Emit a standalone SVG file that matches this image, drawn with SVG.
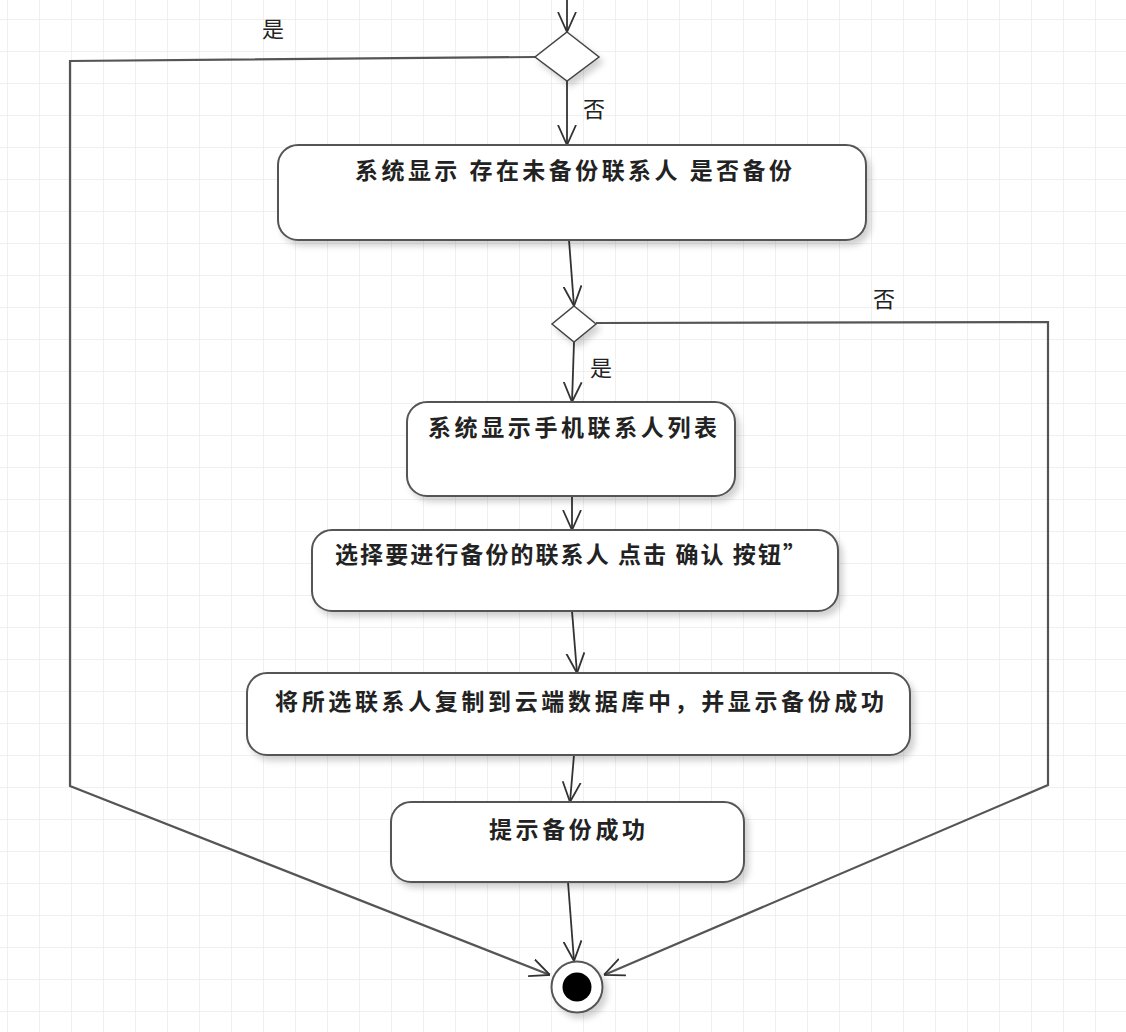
<svg xmlns="http://www.w3.org/2000/svg" width="1126" height="1032" viewBox="0 0 1126 1032">
  <style>
    .node rect { fill: #ffffff; stroke: #555555; stroke-width: 2; filter: url(#shadow); }
    .dia { fill: #ffffff; stroke: #444444; stroke-width: 1.5; filter: url(#shadow); }
    .lbl { font-family: "Noto Sans CJK SC", "Liberation Sans", sans-serif; font-size: 23px; font-weight: bold; fill: #222222; }
    .guard { font-family: "Noto Sans CJK SC", "Liberation Sans", sans-serif; font-size: 22px; fill: #222222; }
    .edge { fill: none; stroke: #333333; stroke-width: 1.8; marker-end: url(#arrow); }
    .edge2 { fill: none; stroke: #555555; stroke-width: 2.2; marker-end: url(#arrow); }
  </style>
  <defs>
    <pattern id="grid" patternUnits="userSpaceOnUse" x="7" y="19" width="32" height="32">
      <path d="M0,0 H32 M0,0 V32" fill="none" stroke="#e2e2e2" stroke-width="1"/>
    </pattern>
    <filter id="shadow" x="-10%" y="-10%" width="130%" height="140%">
      <feDropShadow dx="4" dy="5" stdDeviation="3" flood-color="#000000" flood-opacity="0.18"/>
    </filter>
    <marker id="arrow" viewBox="0 0 20 20" refX="20" refY="10" markerWidth="20" markerHeight="20" markerUnits="userSpaceOnUse" orient="auto">
      <path d="M0,1 L20,10 L0,19" fill="none" stroke="#333333" stroke-width="1.8"/>
    </marker>
  </defs>

  <rect x="0" y="0" width="1126" height="1032" fill="#ffffff"/>
  <rect x="0" y="0" width="1126" height="1032" fill="url(#grid)"/>

  <g id="connectors">
    <path class="edge" d="M567,0 L567,32"/>
    <path class="edge" d="M567,81 L567,145"/>
    <path class="edge2" d="M535,57 L70,61 L70,786 L550,975"/>
    <path class="edge" d="M569,240 L574,306"/>
    <path class="edge2" d="M596,323 L1048,322 L1048,785 L604,975"/>
    <path class="edge" d="M574,342 L572,402"/>
    <path class="edge" d="M572,496 L572,530"/>
    <path class="edge" d="M572,611 L577,673"/>
    <path class="edge" d="M574,755 L570,802"/>
    <path class="edge" d="M568,882 L574,961"/>
  </g>

  <g id="labels">
    <text class="guard" x="262" y="37">是</text>
    <text class="guard" x="583" y="117">否</text>
    <text class="guard" x="873" y="307">否</text>
    <text class="guard" x="590" y="376">是</text>
  </g>

  <g id="decision1">
    <polygon class="dia" points="567,32 599,57 567,81 535,57"/>
  </g>

  <g id="action1" class="node">
    <rect x="278" y="145" width="588" height="95" rx="20" ry="20"/>
    <text class="lbl" x="355" y="179" textLength="437" lengthAdjust="spacing">系统显示 存在未备份联系人 是否备份</text>
  </g>

  <g id="decision2">
    <polygon class="dia" points="574,306 596,324 574,342 552,324"/>
  </g>

  <g id="action2" class="node">
    <rect x="407" y="402" width="328" height="94" rx="20" ry="20"/>
    <text class="lbl" x="428" y="436" textLength="289" lengthAdjust="spacing">系统显示手机联系人列表</text>
  </g>

  <g id="action3" class="node">
    <rect x="312" y="530" width="526" height="81" rx="20" ry="20"/>
    <text class="lbl" x="335" y="563" textLength="471" lengthAdjust="spacing">选择要进行备份的联系人 点击 确认 按钮”</text>
  </g>

  <g id="action4" class="node">
    <rect x="247" y="673" width="663" height="82" rx="20" ry="20"/>
    <text class="lbl" x="275" y="710" textLength="609" lengthAdjust="spacing">将所选联系人复制到云端数据库中，并显示备份成功</text>
  </g>

  <g id="action5" class="node">
    <rect x="391" y="802" width="353" height="80" rx="20" ry="20"/>
    <text class="lbl" x="489" y="838" textLength="156" lengthAdjust="spacing">提示备份成功</text>
  </g>

  <g id="final">
    <circle cx="577" cy="987" r="25.5" fill="#ffffff" stroke="#555555" stroke-width="2" filter="url(#shadow)"/>
    <circle cx="577" cy="987" r="14.5" fill="#000000"/>
  </g>
</svg>
